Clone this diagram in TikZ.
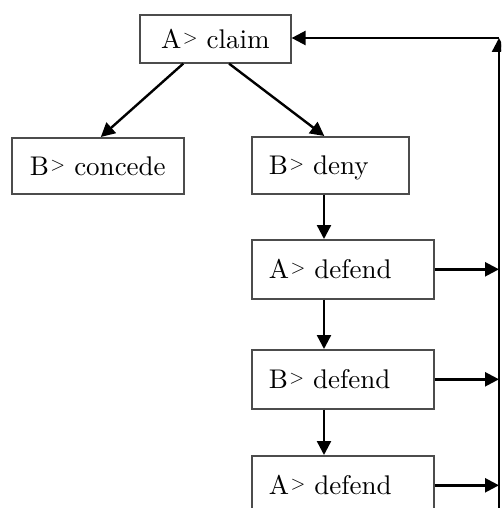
\documentclass[tikz,border=0pt]{standalone}
\usepackage{fontspec}
\setmainfont{lmroman10-regular}[Extension=.otf]
\usetikzlibrary{arrows.meta,calc}
% speaker prompt: a small raised chevron after the speaker letter
\newcommand{\spk}[1]{#1\kern1.5pt\raisebox{5pt}{\fontsize{19}{19}\selectfont>}\ }
\begin{document}
\begin{tikzpicture}[x=1pt,y=-1pt,
  box/.style={draw=black!70,line width=1.6pt,inner xsep=17pt,inner ysep=0pt,
    text height=19pt,text depth=0pt,
    minimum height=57pt,font=\fontsize{27}{30}\selectfont,anchor=north west},
  arrow/.style={line width=2.4pt,-{Triangle[width=14pt,length=14pt]}}]
\useasboundingbox (0,0) rectangle (501,508);
\begin{scope}
\clip (0,0) rectangle (501,508);
% move boxes
\node[box,text width=117pt,align=center,minimum height=48pt] (claim) at (139,14) {\spk{A}claim};
\node[box,text width=138pt,align=center,minimum height=56pt] (concede) at (11,137) {\spk{B}concede};
\node[box,text width=123pt,align=left] (deny) at (251,136) {\spk{B}deny};
\node[box,text width=148pt,align=left,minimum height=59pt] (def1) at (251,239) {\spk{A}defend};
\node[box,text width=148pt,align=left,minimum height=59pt] (def2) at (251,349) {\spk{B}defend};
\node[box,text width=148pt,align=left,minimum height=59pt] (def3) at (251,455) {\spk{A}defend};
% guide lines for connectors
\coordinate (spine) at (324,0);
\coordinate (rail) at (499,0);
\coordinate (railtop) at (499,38);
\coordinate (railend) at (499,520);
% branches from the claim
\draw[arrow] ($(claim.south west)!0.29!(claim.south east)$) -- ($(concede.north)+(3,0)$);
\draw[arrow] ($(claim.south west)!0.59!(claim.south east)$) -- ($(deny.north)+(-6,0)$);
% sequence of replies
\draw[arrow] (deny.south -| spine) -- (def1.north -| spine);
\draw[arrow] (def1.south -| spine) -- (def2.north -| spine);
\draw[arrow] (def2.south -| spine) -- (def3.north -| spine);
% exits to the return rail
\draw[arrow] (def1.east) -- (def1.east -| rail);
\draw[arrow] (def2.east) -- (def2.east -| rail);
\draw[arrow] (def3.east) -- (def3.east -| rail);
% return rail back to the claim
\draw[arrow] (railend) -- (railtop);
\draw[arrow] (railtop) -- (claim.east |- railtop);
\end{scope}
\end{tikzpicture}
\end{document}
